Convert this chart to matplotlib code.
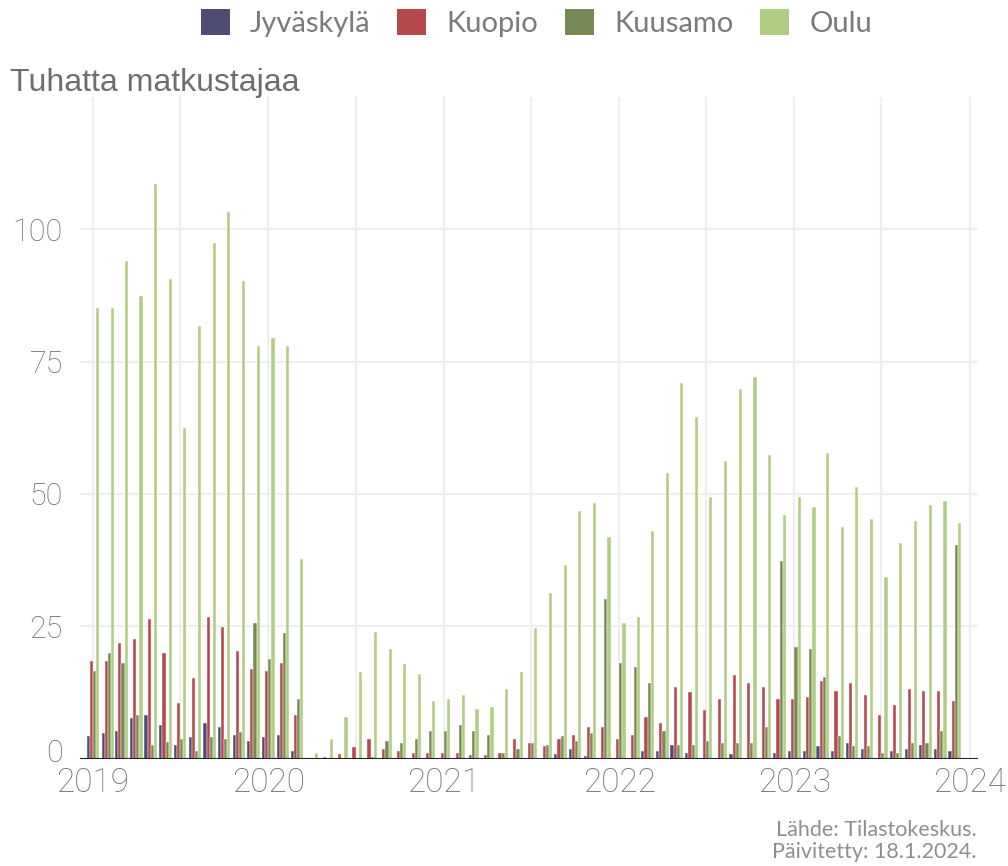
import numpy as np
import pandas as pd
import matplotlib
matplotlib.use("Agg")
import matplotlib.pyplot as plt
import matplotlib.dates as mdates
import matplotlib.transforms as mtransforms
from matplotlib.patches import Patch

# monthly passengers, thousands, Jan 2019 - Dec 2023
months = pd.date_range("2019-01-01", "2023-12-01", freq="MS")
airports = ["Jyväskylä", "Kuopio", "Kuusamo", "Oulu"]
colors = ["#4e4c74", "#b5494b", "#778a55", "#b1cd83"]

jyvaskyla = [4.2, 4.9, 5.3, 7.6, 8.3, 6.3, 2.6, 4.0, 6.7, 6.0, 4.4, 3.3,
             4.0, 4.4, 1.4, 0, 0, 0, 0, 0, 0, 0, 0, 0,
             0, 0, 0, 0, 0, 0, 0, 0, 0.8, 1.9, 0.4, 0,
             0, 0, 1.5, 1.5, 2.6, 1.1, 0, 0, 0.8, 0, 0, 1.1,
             1.5, 1.5, 2.3, 1.5, 3.0, 1.9, 0, 1.5, 1.9, 2.6, 1.9, 1.5]
kuopio = [18.4, 18.4, 21.8, 22.6, 26.4, 19.9, 10.5, 15.3, 26.7, 24.9, 20.3, 16.9,
          16.6, 18.1, 8.3, 0, 0.3, 0.8, 2.2, 3.7, 1.8, 1.5, 1.1, 1.1,
          1.1, 1.1, 0.7, 0.7, 1.1, 3.7, 3.0, 2.3, 3.8, 4.5, 6.0, 6.0,
          3.8, 4.5, 7.9, 6.8, 13.6, 12.5, 9.1, 11.3, 15.8, 14.3, 13.6, 11.3,
          11.3, 11.7, 14.7, 12.8, 14.3, 12.1, 8.3, 10.2, 13.2, 12.8, 12.8, 10.9]
kuusamo = [16.6, 19.9, 18.1, 8.3, 2.5, 3.2, 3.7, 1.4, 4.0, 3.7, 5.1, 25.6,
           18.8, 23.7, 11.2, 0, 0, 0, 0, 0.3, 3.4, 3.0, 3.7, 5.3,
           5.3, 6.4, 5.3, 4.5, 1.1, 1.8, 3.0, 2.6, 4.2, 3.4, 4.9, 30.2,
           18.1, 17.4, 14.3, 5.3, 2.6, 2.6, 3.4, 3.0, 3.0, 3.0, 6.0, 37.4,
           21.1, 20.8, 15.5, 4.2, 2.3, 2.3, 1.1, 1.1, 3.0, 3.0, 5.3, 40.4]
oulu = [85.1, 85.1, 94.1, 87.4, 108.5, 90.7, 62.5, 81.7, 97.5, 103.2, 90.3, 78.0,
        79.4, 78.0, 37.8, 1.1, 3.7, 7.9, 16.3, 23.9, 20.8, 17.8, 15.9, 10.9,
        11.3, 12.1, 9.4, 9.8, 13.2, 16.3, 24.6, 31.3, 36.6, 46.8, 48.3, 41.9,
        25.7, 26.8, 43.0, 54.0, 70.9, 64.5, 49.4, 56.2, 69.8, 72.1, 57.4, 46.0,
        49.4, 47.5, 57.7, 43.8, 51.3, 45.3, 34.3, 40.8, 44.9, 47.9, 48.7, 44.5]
series = [jyvaskyla, kuopio, kuusamo, oulu]

fig = plt.figure(figsize=(10.08, 8.66), dpi=100)
ax = fig.add_axes([0.079, 0.124, 0.891, 0.764])

x = mdates.date2num(months)
w = 6.6  # days per bar
for i, (vals, c) in enumerate(zip(series, colors)):
    ax.bar(x + (i - 1.5) * w, vals, width=w, color=c, edgecolor="white",
           linewidth=0.3, zorder=2)

ax.set_xlim(mdates.date2num(pd.Timestamp("2018-12-04")),
            mdates.date2num(pd.Timestamp("2024-01-18")))
ax.set_ylim(0, 125)

ax.xaxis.set_major_locator(mdates.YearLocator())
ax.xaxis.set_major_formatter(mdates.DateFormatter("%Y"))
ax.xaxis.set_minor_locator(mdates.MonthLocator(bymonth=7))
ax.set_yticks([0, 25, 50, 75, 100])

ax.grid(True, which="both", axis="x", color="#efefef", linewidth=1.6, zorder=0)
ax.grid(True, which="major", axis="y", color="#efefef", linewidth=1.6, zorder=0)
ax.set_axisbelow(True)
ax.axhline(0, color="#222222", linewidth=1.5, zorder=3)

for s in ax.spines.values():
    s.set_visible(False)
ax.tick_params(which="both", length=0)
ax.tick_params(axis="y", pad=12)
ax.tick_params(axis="x", pad=6)
for lab in ax.get_xticklabels():
    lab.set_fontfamily("Roboto")
    lab.set_fontweight("light")
    lab.set_fontsize(24)
    lab.set_color("#6e6e6e")
for lab in ax.get_yticklabels():
    lab.set_fontfamily("Roboto")
    lab.set_fontweight("light")
    lab.set_fontsize(22)
    lab.set_color("#6e6e6e")

# lift the "0" label a little so it clears the year labels
zero_lab = ax.get_yticklabels()[0]
zero_lab.set_transform(zero_lab.get_transform() +
                       mtransforms.ScaledTranslation(0, 6 / 72, fig.dpi_scale_trans))

fig.text(0.010, 0.895, "Tuhatta matkustajaa", fontsize=23, color="#6e6e6e",
         family="Liberation Sans", ha="left", va="baseline")

handles = [Patch(facecolor=c, edgecolor="none") for c in colors]
fig.legend(handles, airports, loc="center", bbox_to_anchor=(0.532, 0.973),
           ncol=4, frameon=False, handlelength=1.0, handleheight=1.0,
           handletextpad=0.7, columnspacing=0.9,
           prop={"family": "Lato", "size": 21}, labelcolor="#7a7a7a")

fig.text(0.969, 0.029, "Lähde: Tilastokeskus.\nPäivitetty: 18.1.2024.",
         ha="right", va="center", fontsize=15.5, family="Lato",
         color="#8e8e8e", linespacing=1.1)

fig.savefig("out.png", dpi=100)
